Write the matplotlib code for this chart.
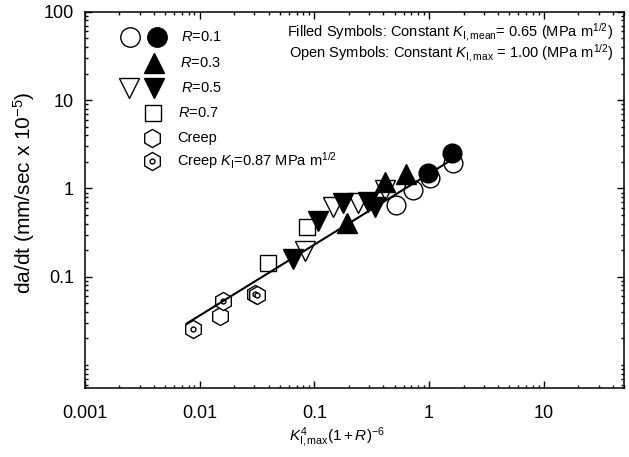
import numpy as np
import matplotlib
matplotlib.use("Agg")
import matplotlib.pyplot as plt
from matplotlib.ticker import FixedLocator, NullFormatter, FuncFormatter

plt.rcParams['font.family'] = ['Liberation Sans', 'DejaVu Sans']
plt.rcParams['mathtext.fontset'] = 'custom'
plt.rcParams['mathtext.rm'] = 'Liberation Sans'
plt.rcParams['mathtext.it'] = 'Liberation Sans:italic'
plt.rcParams['mathtext.bf'] = 'Liberation Sans:bold'

# R = 0.1
r01_open_x = [0.52, 0.73, 1.02, 1.63]
r01_open_y = [0.648, 0.96, 1.30, 1.93]
r01_fill_x = [0.98, 1.57]
r01_fill_y = [1.51, 2.50]
# R = 0.3
r03_fill_x = [0.191, 0.413, 0.63]
r03_fill_y = [0.402, 1.19, 1.46]
# R = 0.5
r05_open_x = [0.083, 0.146, 0.241, 0.413]
r05_open_y = [0.197, 0.621, 0.689, 0.96]
r05_fill_x = [0.0647, 0.108, 0.179, 0.295, 0.337]
r05_fill_y = [0.161, 0.427, 0.678, 0.706, 0.62]
# R = 0.7
r07_open_x = [0.0396, 0.0857]
r07_open_y = [0.1416, 0.362]
# creep
creep_x = [0.0150]
creep_y = [0.036]
creep_k_x = [0.0087, 0.0161, 0.0305, 0.0315]
creep_k_y = [0.0255, 0.0533, 0.0635, 0.0615]
# fitted line
fit_x = [0.0077, 1.74]
fit_y = [0.0295, 2.29]

fig = plt.figure(figsize=(6.29, 4.57), dpi=100)
ax = fig.add_axes([0.135, 0.151, 0.857, 0.823])
ax.set_xscale('log')
ax.set_yscale('log')
ax.set_xlim(0.001, 50)
ax.set_ylim(0.0055, 100)

mew = 1.0
open_kw = dict(ls='none', mfc='white', mec='black', mew=mew)
fill_kw = dict(ls='none', mfc='black', mec='black', mew=mew)

ax.plot(creep_x, creep_y, marker='h', ms=13, zorder=3, **open_kw)
ax.plot(creep_k_x, creep_k_y, marker='h', ms=13, zorder=3, **open_kw)
ax.plot(creep_k_x, creep_k_y, marker='o', ms=3.5, zorder=3, **open_kw)
ax.plot(r07_open_x, r07_open_y, marker='s', ms=12, zorder=3, **open_kw)
ax.plot(r05_open_x, r05_open_y, marker='v', ms=14.5, zorder=3, **open_kw)
ax.plot(r01_open_x, r01_open_y, marker='o', ms=13.5, zorder=3, **open_kw)
ax.plot(fit_x, fit_y, color='black', lw=1.5, zorder=4)
ax.plot(r05_fill_x, r05_fill_y, marker='v', ms=14.5, zorder=5, **fill_kw)
ax.plot(r03_fill_x, r03_fill_y, marker='^', ms=14.5, zorder=5, **fill_kw)
ax.plot(r01_fill_x, r01_fill_y, marker='o', ms=13.5, zorder=5, **fill_kw)

# legend drawn by hand
tr = ax.transAxes
leg_kw = dict(transform=tr, clip_on=False)
ax.plot(0.0835, 0.933, marker='o', ms=14, **open_kw, **leg_kw)
ax.plot(0.133, 0.933, marker='o', ms=14, **fill_kw, **leg_kw)
ax.plot(0.128, 0.864, marker='^', ms=15, **fill_kw, **leg_kw)
ax.plot(0.082, 0.798, marker='v', ms=15, **open_kw, **leg_kw)
ax.plot(0.128, 0.798, marker='v', ms=15, **fill_kw, **leg_kw)
ax.plot(0.127, 0.731, marker='s', ms=12, **open_kw, **leg_kw)
ax.plot(0.124, 0.665, marker='h', ms=13, **open_kw, **leg_kw)
ax.plot(0.124, 0.604, marker='h', ms=13, **open_kw, **leg_kw)
ax.plot(0.124, 0.604, marker='o', ms=3.5, **open_kw, **leg_kw)

fs_leg = 10.5
ax.text(0.179, 0.933, r'$R$=0.1', transform=tr, fontsize=fs_leg, va='center')
ax.text(0.176, 0.864, r'$R$=0.3', transform=tr, fontsize=fs_leg, va='center')
ax.text(0.178, 0.798, r'$R$=0.5', transform=tr, fontsize=fs_leg, va='center')
ax.text(0.173, 0.731, r'$R$=0.7', transform=tr, fontsize=fs_leg, va='center')
ax.text(0.171, 0.665, 'Creep', transform=tr, fontsize=fs_leg, va='center')
ax.text(0.171, 0.604, r'Creep $K_{\rm I}$=0.87 MPa m$^{1/2}$', transform=tr,
        fontsize=fs_leg, va='center')

ax.text(0.980, 0.947, r'Filled Symbols: Constant $K_{\rm I,mean}$= 0.65 (MPa m$^{1/2}$)',
        transform=tr, fontsize=fs_leg, ha='right', va='center')
ax.text(0.980, 0.891, r'Open Symbols: Constant $K_{\rm I,max}$ = 1.00 (MPa m$^{1/2}$)',
        transform=tr, fontsize=fs_leg, ha='right', va='center')

# ticks
ax.yaxis.set_major_locator(FixedLocator([0.1, 1, 10, 100]))
ax.yaxis.set_minor_locator(FixedLocator(
    [k * 10.0 ** e for e in range(-3, 2) for k in range(1, 10)
     if not (k == 1 and e >= -1)]))
ax.xaxis.set_major_locator(FixedLocator([0.001, 0.01, 0.1, 1, 10]))
ax.xaxis.set_minor_locator(FixedLocator(
    [k * 10.0 ** e for e in range(-3, 2) for k in range(2, 10)]))
fmt = FuncFormatter(lambda v, p: f'{v:g}')
ax.xaxis.set_major_formatter(fmt)
ax.yaxis.set_major_formatter(fmt)
ax.xaxis.set_minor_formatter(NullFormatter())
ax.yaxis.set_minor_formatter(NullFormatter())
ax.tick_params(which='both', direction='in', top=True, right=True, width=1.0)
ax.tick_params(which='major', length=5)
ax.tick_params(which='minor', length=2.5)
ax.tick_params(axis='x', which='major', labelsize=13, pad=12)
ax.tick_params(axis='y', which='major', labelsize=13, pad=8)
for s in ax.spines.values():
    s.set_linewidth(1.1)

ax.set_xlabel(r'$K^{4}_{\rm I,max}(1+R)^{-6}$', fontsize=11)
ax.xaxis.set_label_coords(0.467, -0.1)
ax.set_ylabel(r'da/dt (mm/sec x 10$^{-5}$)', fontsize=15)
ax.yaxis.set_label_coords(-0.088, 0.52)

fig.savefig('out.png', dpi=100)
